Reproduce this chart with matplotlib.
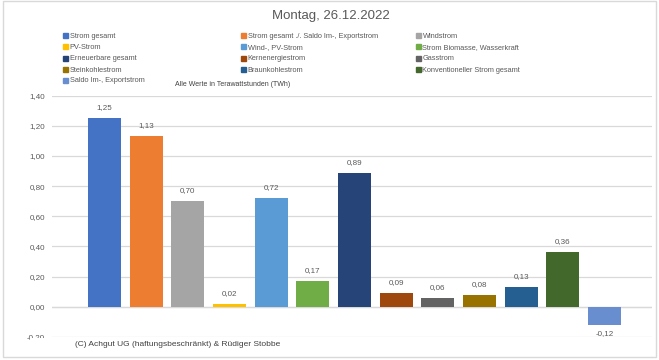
import matplotlib.pyplot as plt
from matplotlib.patches import Rectangle
import numpy as np

plt.rcParams['font.family'] = ['Liberation Sans', 'DejaVu Sans']

labels = ["Strom gesamt", "Strom gesamt ./. Saldo Im-, Exportstrom", "Windstrom",
          "PV-Strom", "Wind-, PV-Strom", "Strom Biomasse, Wasserkraft",
          "Erneuerbare gesamt", "Kernenergiestrom", "Gasstrom",
          "Steinkohlestrom", "Braunkohlestrom", "Konventioneller Strom gesamt",
          "Saldo Im-, Exportstrom"]
values = [1.25, 1.13, 0.70, 0.02, 0.72, 0.17, 0.89, 0.09, 0.06, 0.08, 0.13, 0.36, -0.12]
colors = ["#4472C4", "#ED7D31", "#A5A5A5", "#FFC000", "#5B9BD5", "#70AD47",
          "#264478", "#9E480E", "#636363", "#997300", "#255E91", "#43682B", "#698ED0"]
yticks = [-0.2, 0.0, 0.2, 0.4, 0.6, 0.8, 1.0, 1.2, 1.4]

W, H = 659, 360
gray = "#595959"

fig = plt.figure(figsize=(W / 100, H / 100), dpi=100)
ax = fig.add_axes([52 / W, 1 - 336.8 / H, 600 / W, (336.8 - 95.7) / H])

x = np.arange(len(values))
ax.bar(x, values, width=0.79, color=colors, zorder=2)
for xi, v in zip(x, values):
    if v >= 0:
        ax.annotate(f"{v:.2f}".replace(".", ","), (xi, v), xytext=(0, 5),
                    textcoords="offset points", ha="center", va="bottom",
                    fontsize=5.8, color=gray)
    else:
        ax.annotate(f"{v:.2f}".replace(".", ","), (xi, v), xytext=(0, -4),
                    textcoords="offset points", ha="center", va="top",
                    fontsize=5.8, color=gray)

ax.set_xlim(-1.26, 13.14)
ax.set_ylim(-0.2, 1.4)
ax.set_yticks(yticks)
ax.set_yticklabels([f"{t:.2f}".replace(".", ",") for t in yticks], fontsize=5.8, color=gray)
ax.tick_params(axis="y", length=0, pad=5)
ax.set_xticks([])
ax.grid(axis="y", color="#D9D9D9", linewidth=0.9, zorder=0)
ax.axhline(0, color="#D9D9D9", linewidth=0.9, zorder=1)
for s in ax.spines.values():
    s.set_visible(False)

# outer chart border
fig.patches.append(Rectangle((3 / W, 3 / H), 653 / W, 356 / H, transform=fig.transFigure,
                             fill=False, edgecolor="#D9D9D9", linewidth=1.0))

fig.text(331 / W, 1 - 16 / H, "Montag, 26.12.2022", ha="center", va="center",
         fontsize=9.5, color=gray)
fig.text(175 / W, 1 - 84 / H, "Alle Werte in Terawattstunden (TWh)", ha="left",
         va="center_baseline", fontsize=5, color="#404040")

# legend, filled row by row
col_x = [65, 243, 418]
row_y = [35, 46.5, 58, 69, 80]
for i, (lab, c) in enumerate(zip(labels, colors)):
    cx = col_x[i % 3]
    cy = row_y[i // 3]
    fig.patches.append(Rectangle(((cx - 2.5) / W, 1 - (cy + 2.5) / H), 5 / W, 5 / H,
                                 transform=fig.transFigure, color=c))
    fig.text((cx + 4.5) / W, 1 - cy / H, lab, ha="left", va="center_baseline",
             fontsize=5.3, color=gray)

# footer box covering the lower gridline
fig.patches.append(Rectangle((30 / W, 4 / H), 355 / W, (356 - 338) / H,
                             transform=fig.transFigure, facecolor="white",
                             edgecolor="none", zorder=5))
fig.text(75 / W, 1 - 344 / H, "(C) Achgut UG (haftungsbeschränkt) & Rüdiger Stobbe",
         ha="left", va="center", fontsize=6, color="#404040", zorder=6)

fig.savefig("out.png", dpi=100)
